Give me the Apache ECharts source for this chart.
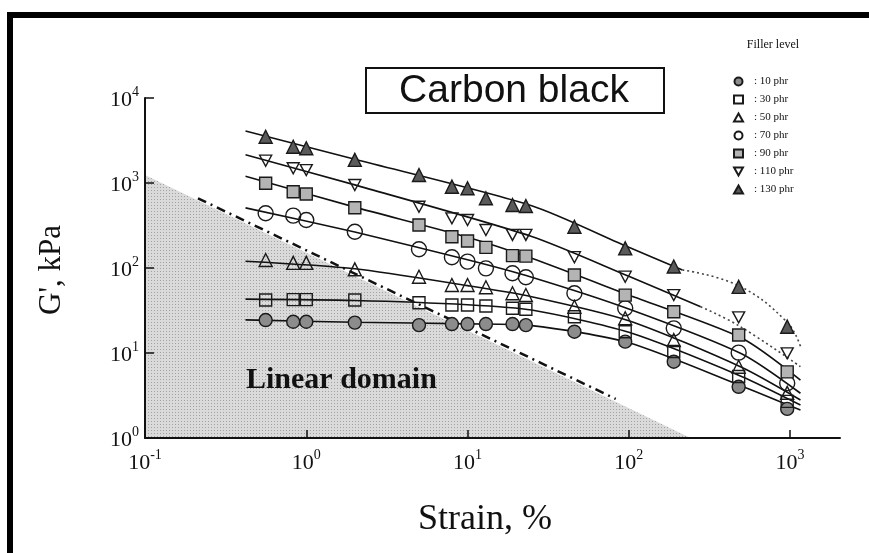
<!DOCTYPE html>
<html><head><meta charset="utf-8">
<script src="https://cdn.jsdelivr.net/npm/echarts@6/dist/echarts.min.js"></script>
<style>html,body{margin:0;padding:0;background:#fff}#c{width:869px;height:553px}</style>
</head><body><div id="c"></div>
<script>
// ---- data ----
const strains = [0.56, 0.83, 1.0, 2, 5, 8, 10, 13, 19, 23, 46, 95, 190, 480, 960];
const g10  = [24.4, 23.3, 23.3, 22.8, 21.3, 21.9, 21.9, 21.9, 21.9, 21.3, 17.8, 13.6, 7.9, 4.0, 2.2];
const g30  = [42, 42.5, 42.5, 42, 39, 36.7, 36.7, 35.7, 33.6, 32.7, 26.7, 17.8, 10.4, 5.3, 2.7];
const g50  = [124, 115, 115, 96.5, 79, 63, 63, 59.3, 50.4, 48.1, 35, 25.6, 14.2, 6.9, 3.4];
const g70  = [440, 413, 367, 267, 166, 134, 119, 99, 86.6, 77.8, 50.4, 33.6, 19.5, 10.1, 4.4];
const g90  = [992, 790, 743, 512, 321, 233, 208, 175, 140, 138, 82.7, 48, 30.6, 16.3, 6.0];
const g110 = [1830, 1490, 1420, 947, 526, 384, 367, 280, 245, 245, 134, 79, 48, 26.3, 9.9];
const g130 = [3500, 2670, 2560, 1870, 1242, 905, 866, 661, 551, 536, 306, 170, 104, 60, 20.4];

// fitted curves (strain, G')
const fitStrain = [0.42, 2, 10, 25, 100, 500, 1160];
const fit10  = [24.5, 23, 22, 21, 13.2, 4.1, 2.13];
const fit30  = [43, 41.5, 37, 32, 17.5, 5.3, 2.44];
const fit50  = [120, 98, 62, 46, 24, 6.8, 2.8];
const fit70  = [510, 265, 125, 78, 33, 9.8, 3.36];
const fit90  = [1200, 520, 230, 130, 48, 15, 4.8];
const fit110Strain = [0.42, 2, 25, 100, 279];
const fit110 = [2150, 950, 235, 80, 35];
const dot110Strain = [279, 480, 1160];
const dot110 = [35, 21, 6.9];
const fit130Strain = [0.42, 2, 25, 100, 215];
const fit130 = [4100, 1900, 540, 175, 95];
const dot130Strain = [215, 480, 960, 1160];
const dot130 = [95, 62, 23, 12];

// linear domain boundary
const domainStrain = [0.1, 242];
const domainG = [1242, 1];
const borderStrain = [0.213, 83];
const borderG = [661, 2.88];

const levels = ['10 phr', '30 phr', '50 phr', '70 phr', '90 phr', '110 phr', '130 phr'];
const xTicks = [0.1, 1, 10, 100, 1000];
const yTicks = [1, 10, 100, 1000, 10000];

// ---- chart ----
const serif = '"Liberation Serif", "DejaVu Serif", serif';
const pts = (xs, ys) => xs.map((x, i) => [x, ys[i]]);

// stipple pattern for the linear domain
const pc = document.createElement('canvas');
pc.width = 3; pc.height = 3;
const pctx = pc.getContext('2d');
pctx.fillStyle = '#dadada'; pctx.fillRect(0, 0, 3, 3);
pctx.fillStyle = '#a2a2a2'; pctx.fillRect(1, 1, 1, 1);

const invTri = 'path://M0,0 L10,0 L5,9 Z';
const styles = [
  { symbol: 'circle', size: 13, color: '#8c8c8c' },
  { symbol: 'rect', size: 12, color: 'rgba(0,0,0,0)' },
  { symbol: 'triangle', size: 13, color: 'rgba(0,0,0,0)' },
  { symbol: 'circle', size: 15, color: 'rgba(0,0,0,0)' },
  { symbol: 'rect', size: 12, color: '#b4b4b4' },
  { symbol: invTri, size: [12, 11], color: 'rgba(0,0,0,0)' },
  { symbol: 'triangle', size: 13, color: '#5a5a5a' }
];
const gAll = [g10, g30, g50, g70, g90, g110, g130];

const series = [];
series.push({
  type: 'line', data: pts(domainStrain, domainG), showSymbol: false, silent: true,
  lineStyle: { width: 0 }, areaStyle: { color: { image: pc, repeat: 'repeat' }, opacity: 1 }, z: 0, zlevel: 0
});
series.push({
  type: 'line', data: pts(borderStrain, borderG), showSymbol: false, silent: true,
  lineStyle: { color: '#111', width: 2.5, type: [9, 5, 2, 5] }, z: 2
});
const fits = [[fitStrain, fit10], [fitStrain, fit30], [fitStrain, fit50], [fitStrain, fit70], [fitStrain, fit90], [fit110Strain, fit110], [fit130Strain, fit130]];
fits.forEach(f => series.push({
  type: 'line', data: pts(f[0], f[1]), showSymbol: false, silent: true, smooth: 0.25,
  lineStyle: { color: '#111', width: 1.6 }, z: 3
}));
[[dot110Strain, dot110], [dot130Strain, dot130]].forEach(f => series.push({
  type: 'line', data: pts(f[0], f[1]), showSymbol: false, silent: true, smooth: 0.4,
  lineStyle: { color: '#444', width: 1.6, type: [2, 3] }, z: 3
}));
levels.forEach((name, i) => series.push({
  type: 'scatter', name: name, data: pts(strains, gAll[i]),
  symbol: styles[i].symbol, symbolSize: styles[i].size,
  itemStyle: { color: styles[i].color, borderColor: '#1a1a1a', borderWidth: 1.4, opacity: 1 }, z: 5
}));

const powLabel = v => {
  const e = Math.round(Math.log10(v));
  return '{b|10}{s|' + e + '}';
};
const rich = {
  b: { fontFamily: serif, fontSize: 22, color: '#111', lineHeight: 26, verticalAlign: 'bottom' },
  s: { fontFamily: serif, fontSize: 14, color: '#111', lineHeight: 14, verticalAlign: 'top' }
};

const chart = echarts.init(document.getElementById('c'), null, { renderer: 'canvas' });
chart.setOption({
  animation: false,
  backgroundColor: '#fff',
  grid: { left: 145, top: 98, width: 695, height: 340, containLabel: false },
  xAxis: {
    type: 'log', logBase: 10, min: 0.1, max: 2040, z: 8,
    axisLine: { lineStyle: { color: '#111', width: 2 } },
    axisTick: { inside: true, length: 8, lineStyle: { color: '#111', width: 1.5 }, customValues: xTicks },
    axisLabel: { formatter: powLabel, rich: rich, margin: 10, customValues: xTicks },
    splitLine: { show: false }
  },
  yAxis: {
    type: 'log', logBase: 10, min: 1, max: 10000, z: 8,
    axisLine: { lineStyle: { color: '#111', width: 2 } },
    axisTick: { inside: true, length: 9, lineStyle: { color: '#111', width: 1.5 }, customValues: yTicks },
    axisLabel: { formatter: powLabel, rich: rich, margin: 6, customValues: yTicks },
    splitLine: { show: false }
  },
  legend: {
    data: levels, orient: 'vertical', left: 728, top: 71, itemGap: 7,
    itemWidth: 9, itemHeight: 8,
    formatter: n => ': ' + n,
    textStyle: { fontFamily: serif, fontSize: 11, color: '#111', padding: [0, 0, 0, 6] },
    selectedMode: false
  },
  graphic: [
    { type: 'rect', shape: { x: 7, y: 12, width: 862, height: 6 }, style: { fill: '#000' } },
    { type: 'rect', shape: { x: 7, y: 12, width: 6, height: 541 }, style: { fill: '#000' } },
    { type: 'rect', shape: { x: 366, y: 68, width: 298, height: 45 }, style: { fill: '#fff', stroke: '#111', lineWidth: 2 }, z: 10 },
    { type: 'text', x: 514, y: 91, style: { text: 'Carbon black', font: '39px "Liberation Sans", Arial, sans-serif', fill: '#111', align: 'center', verticalAlign: 'middle' }, z: 11 },
    { type: 'text', x: 773, y: 45, style: { text: 'Filler level', font: '12px ' + serif, fill: '#111', align: 'center', verticalAlign: 'middle' }, z: 11 },
    { type: 'text', x: 246, y: 380, style: { text: 'Linear domain', font: 'bold 30px ' + serif, fill: '#111', align: 'left', verticalAlign: 'middle' }, z: 11 },
    { type: 'text', x: 485, y: 520, style: { text: 'Strain, %', font: '36px ' + serif, fill: '#111', align: 'center', verticalAlign: 'middle' }, z: 11 },
    { type: 'text', x: 52, y: 270, rotation: Math.PI / 2, style: { text: "G', kPa", font: '31px ' + serif, fill: '#111', align: 'center', verticalAlign: 'middle' }, z: 11 }
  ],
  series: series
});
</script></body></html>
